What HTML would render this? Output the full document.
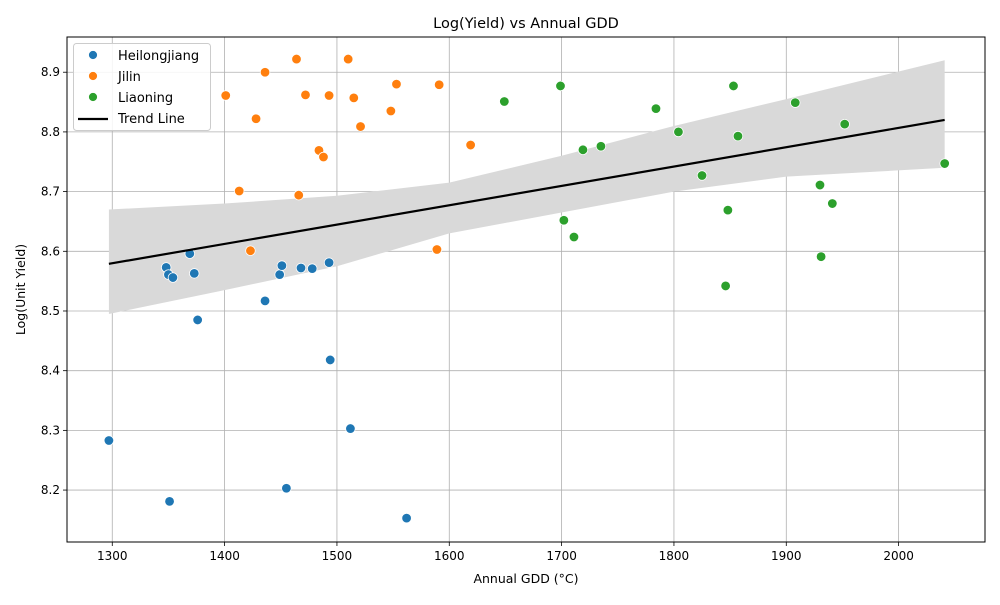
<!DOCTYPE html>
<html><head><meta charset="utf-8"><style>
body{margin:0;background:#fff;font-family:"Liberation Sans","DejaVu Sans",sans-serif}
</style></head><body>
<svg id="chart" width="1000" height="600" xmlns="http://www.w3.org/2000/svg" font-family="DejaVu Sans, Liberation Sans, sans-serif"></svg>
<script>
const heiX=[1297,1348,1350,1354,1369,1373,1376,1436,1449,1451,1455,1468,1478,1493,1494,1512,1562,1351];
const heiY=[8.283,8.573,8.561,8.556,8.596,8.563,8.485,8.517,8.561,8.576,8.203,8.572,8.571,8.581,8.418,8.303,8.153,8.181];
const jilX=[1401,1413,1423,1428,1436,1464,1466,1472,1484,1488,1493,1510,1515,1521,1548,1553,1589,1591,1619];
const jilY=[8.861,8.701,8.601,8.822,8.900,8.922,8.694,8.862,8.769,8.758,8.861,8.922,8.857,8.809,8.835,8.880,8.603,8.879,8.778];
const liaX=[1649,1699,1702,1711,1719,1735,1784,1804,1825,1846,1848,1853,1857,1908,1930,1931,1941,1952,2041];
const liaY=[8.851,8.877,8.652,8.624,8.770,8.776,8.839,8.800,8.727,8.542,8.669,8.877,8.793,8.849,8.711,8.591,8.680,8.813,8.747];
const trendX=[1297,2041];
const trendY=[8.579,8.820];
const bandX=[1297,1400,1500,1600,1700,1800,1900,2041];
const bandUpper=[8.670,8.680,8.693,8.715,8.760,8.810,8.855,8.920];
const bandLower=[8.495,8.535,8.575,8.630,8.665,8.700,8.725,8.740];
const xTicks=[1300,1400,1500,1600,1700,1800,1900,2000];
const yTicks=[8.2,8.3,8.4,8.5,8.6,8.7,8.8,8.9];

const L=67,R=985,T=37,B=542;
const xMin=1259.7,xMax=2076.9,yMin=8.113,yMax=8.959;
const sx=v=>L+(v-xMin)/(xMax-xMin)*(R-L);
const sy=v=>B-(v-yMin)/(yMax-yMin)*(B-T);
const svg=document.getElementById('chart');
const NS='http://www.w3.org/2000/svg';
function mk(tag,attrs,parent){const e=document.createElementNS(NS,tag);for(const k in attrs)e.setAttribute(k,attrs[k]);(parent||svg).appendChild(e);return e;}

mk('rect',{x:0,y:0,width:1000,height:600,fill:'#fff'});
// grid
xTicks.forEach(t=>{
  const g=mk('line',{x1:sx(t),x2:sx(t),y1:T,y2:B,stroke:'#b0b0b0','stroke-width':0.8});
  
  
  mk('line',{x1:sx(t),x2:sx(t),y1:B,y2:B+4,stroke:'#000','stroke-width':0.8});
  const tx=mk('text',{x:sx(t),y:B+18,'text-anchor':'middle','font-size':12,fill:'#000'});
  tx.textContent=t;
  
  
});
yTicks.forEach(t=>{
  const g=mk('line',{x1:L,x2:R,y1:sy(t),y2:sy(t),stroke:'#b0b0b0','stroke-width':0.8});
  
  
  mk('line',{x1:L-4,x2:L,y1:sy(t),y2:sy(t),stroke:'#000','stroke-width':0.8});
  const tx=mk('text',{x:L-7,y:sy(t)+4,'text-anchor':'end','font-size':12,fill:'#000'});
  tx.textContent=t.toFixed(1);
  
  
});
// band
let d='M'+bandX.map((x,i)=>sx(x)+','+sy(bandUpper[i])).join(' L');
d+=' L'+bandX.slice().reverse().map((x,i)=>sx(x)+','+sy(bandLower[bandX.length-1-i])).join(' L')+' Z';
const band=mk('path',{d:d,fill:'#d9d9d9',stroke:'none'});


// points
function pts(xs,ys,color,name){
  xs.forEach((x,i)=>{
    const c=mk('circle',{cx:sx(x),cy:sy(ys[i]),r:4.8,fill:color,stroke:'#fff','stroke-width':0.8});
    
    
  });
}
pts(heiX,heiY,'#1f77b4','heilongjiang-point');
pts(jilX,jilY,'#ff7f0e','jilin-point');
pts(liaX,liaY,'#2ca02c','liaoning-point');
const tl=mk('line',{x1:sx(trendX[0]),y1:sy(trendY[0]),x2:sx(trendX[1]),y2:sy(trendY[1]),stroke:'#000','stroke-width':2.2});


// frame
const fr=mk('rect',{x:L,y:T,width:R-L,height:B-T,fill:'none',stroke:'#000','stroke-width':1});


// titles
const ti=mk('text',{x:(L+R)/2,y:28,'text-anchor':'middle','font-size':14.5});
ti.textContent='Log(Yield) vs Annual GDD';


const xt=mk('text',{x:(L+R)/2,y:583,'text-anchor':'middle','font-size':12.5});
xt.textContent='Annual GDD (°C)';


const yt=mk('text',{x:25,y:(T+B)/2,'text-anchor':'middle','font-size':12.5,transform:'rotate(-90 25 '+((T+B)/2)+')'});
yt.textContent='Log(Unit Yield)';


// legend
const lg=mk('g',{});


mk('rect',{x:73.5,y:43.5,width:137,height:87,rx:3,fill:'#fff','fill-opacity':0.85,stroke:'#ccc'},lg);
const items=[['Heilongjiang','#1f77b4'],['Jilin','#ff7f0e'],['Liaoning','#2ca02c'],['Trend Line',null]];
items.forEach((it,i)=>{
  const y=55+i*21;
  if(it[1]){const c=mk('circle',{cx:93,cy:y,r:4.5,fill:it[1],stroke:'#fff','stroke-width':0.8},lg);}
  else mk('line',{x1:78,x2:108,y1:y+1,y2:y+1,stroke:'#000','stroke-width':2.2},lg);
  const t=mk('text',{x:118,y:y+5,'font-size':13},lg);
  t.textContent=it[0];
  
  
});
</script>
</body></html>
